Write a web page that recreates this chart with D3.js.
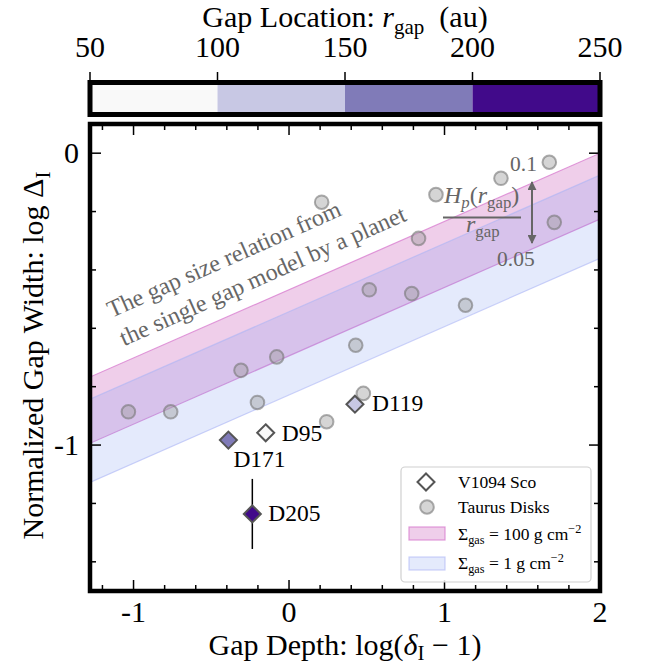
<!DOCTYPE html>
<html><head><meta charset="utf-8">
<script src="https://cdn.jsdelivr.net/npm/d3@7"></script>
<style>
html,body{margin:0;padding:0;background:#fff;}
svg{display:block;font-family:"Liberation Serif","Times New Roman",serif;}
</style></head>
<body><svg id="c" width="649" height="666"></svg>
<script>
// ---------- data ----------
const xTicks = [-1, 0, 1, 2];
const yTicks = [-1, 0];
const cbTicks = [50, 100, 150, 200, 250];
const cbBounds = [50, 100, 150, 200, 250];
const cbColors = ["#f9f9f9", "#c8c8e4", "#807bb8", "#410a8a"];

const taurusX = [-1.033, -0.761, -0.309, -0.079, -0.203, 0.210, 0.516, 0.429, 0.242, 0.478, 0.789, 1.135, 0.833, 0.945, 1.363, 1.674, 1.706];
const taurusY = [-0.886, -0.886, -0.744, -0.698, -0.854, -0.168, -0.468, -0.658, -0.920, -0.823, -0.481, -0.521, -0.292, -0.142, -0.086, -0.031, -0.237];

const v1094Names = ["D95", "D119", "D171", "D205"];
const v1094X = [-0.150, 0.424, -0.390, -0.236];
const v1094Y = [-0.958, -0.860, -0.983, -1.236];
const v1094Err = [0, 0, 0, 0.12];
const v1094R = [95, 119, 171, 205];

const bandX = [-1.28, 2.0];
const pinkUpper = [-0.767, 0.000];
const pinkLower = [-0.994, -0.226];
const blueUpper = [-0.843, -0.075];
const blueLower = [-1.128, -0.360];

// ---------- setup ----------
const svg = d3.select("#c");
const L = 90, R = 600, T = 124, B = 591;
const x = d3.scaleLinear().domain([-1.28, 2]).range([L, R]);
const y = d3.scaleLinear().domain([-1.5, 0.1]).range([B, T]);
const FS = 30;

function rich(sel, parts, fs, subShift) {
  const ss = subShift === undefined ? 0.22 : subShift;
  let shift = 0;
  parts.forEach(([t, s]) => {
    const ts = sel.append("tspan").text(t);
    let target = 0;
    if (s === "sub" || s === "isub") { target = ss * fs; ts.attr("font-size", 0.7 * fs); }
    if (s === "sup") { target = -0.4 * fs; ts.attr("font-size", 0.7 * fs); }
    if (s === "i" || s === "isub") ts.attr("font-style", "italic");
    ts.attr("dy", target - shift);
    shift = target;
  });
}

// ---------- colorbar ----------
const cx = d3.scaleLinear().domain([50, 250]).range([L, R]);
const cbT = 82.5, cbB = 114.5;
const cbg = svg.append("g");
cbColors.forEach((c, i) => {
  cbg.append("rect").attr("x", cx(cbBounds[i])).attr("y", cbT)
    .attr("width", cx(cbBounds[i + 1]) - cx(cbBounds[i])).attr("height", cbB - cbT).attr("fill", c);
});
cbg.append("rect").attr("x", L).attr("y", cbT).attr("width", R - L).attr("height", cbB - cbT)
  .attr("fill", "none").attr("stroke", "#000").attr("stroke-width", 5);
cbTicks.forEach(t => {
  cbg.append("line").attr("x1", cx(t)).attr("x2", cx(t)).attr("y1", 72).attr("y2", 80)
    .attr("stroke", "#000").attr("stroke-width", 1.5);
  cbg.append("text").attr("x", cx(t)).attr("y", 57).attr("text-anchor", "middle")
    .attr("font-size", FS).text(t);
});
rich(cbg.append("text").attr("x", (L + R) / 2).attr("y", 27).attr("text-anchor", "middle").attr("font-size", FS),
  [["Gap Location: ", "n"], ["r", "i"], ["gap", "sub"], ["\u00a0\u00a0(au)", "n"]], FS);

// ---------- plot ----------
svg.append("defs").append("clipPath").attr("id", "clip")
  .append("rect").attr("x", L).attr("y", T).attr("width", R - L).attr("height", B - T);
const pg = svg.append("g").attr("clip-path", "url(#clip)");

function band(up, lo, fill, fop, edge) {
  const pts = bandX.map((bx, i) => ({ x: bx, u: up[i], l: lo[i] }));
  pg.append("path").datum(pts)
    .attr("d", d3.area().x(d => x(d.x)).y0(d => y(d.l)).y1(d => y(d.u)))
    .attr("fill", fill).attr("fill-opacity", fop);
  [up, lo].forEach(arr => {
    pg.append("path").datum(bandX.map((bx, i) => [bx, arr[i]]))
      .attr("d", d3.line().x(d => x(d[0])).y(d => y(d[1])))
      .attr("fill", "none").attr("stroke", edge).attr("stroke-width", 1.2);
  });
}
band(pinkUpper, pinkLower, "rgb(190,60,170)", 0.25, "rgba(215,120,205,0.75)");
band(blueUpper, blueLower, "rgb(120,150,240)", 0.2, "rgba(170,180,245,0.6)");

// Taurus circles
pg.selectAll("circle.t").data(taurusX.map((d, i) => [d, taurusY[i]])).join("circle")
  .attr("cx", d => x(d[0])).attr("cy", d => y(d[1])).attr("r", 6.8)
  .attr("fill", "#9a9a9a").attr("fill-opacity", 0.42)
  .attr("stroke", "#777").attr("stroke-opacity", 0.6).attr("stroke-width", 2);

// V1094 diamonds
const rColor = d3.scaleThreshold().domain([100, 150, 200]).range(cbColors);
const diam = "M0,-8.5L8.5,0L0,8.5L-8.5,0Z";
v1094X.forEach((vx, i) => {
  if (v1094Err[i] > 0) {
    pg.append("line").attr("x1", x(vx)).attr("x2", x(vx))
      .attr("y1", y(v1094Y[i] - v1094Err[i])).attr("y2", y(v1094Y[i] + v1094Err[i]))
      .attr("stroke", "#000").attr("stroke-width", 1.5);
  }
  pg.append("path").attr("d", diam).attr("transform", `translate(${x(vx)},${y(v1094Y[i])})`)
    .attr("fill", rColor(v1094R[i])).attr("stroke", "#555").attr("stroke-width", 2);
});
const labOff = { D95: [16, 8], D119: [17, 7], D171: [5, 27], D205: [16, 7] };
v1094Names.forEach((n, i) => {
  svg.append("text").attr("x", x(v1094X[i]) + labOff[n][0]).attr("y", y(v1094Y[i]) + labOff[n][1])
    .attr("font-size", 23.5).text(n);
});

// rotated annotation
const rg = svg.append("g").attr("transform", "translate(111.5,318) rotate(-24)").attr("fill", "#666").attr("font-size", 24);
rg.append("text").attr("x", 0).attr("y", 0).text("The gap size relation from");
rg.append("text").attr("x", 0).attr("y", 31).text("the single gap model by a planet");

// H/r annotation
const ag = svg.append("g").attr("fill", "#666");
ag.append("text").attr("x", 510).attr("y", 171).attr("font-size", 21.5).text("0.1");
ag.append("text").attr("x", 497).attr("y", 266).attr("font-size", 21.5).text("0.05");
rich(ag.append("text").attr("x", 444).attr("y", 203).attr("font-size", 24),
  [["H", "i"], ["p", "isub"], ["(", "n"], ["r", "i"], ["gap", "sub"], [")", "n"]], 24);
ag.append("line").attr("x1", 443).attr("x2", 521).attr("y1", 217.5).attr("y2", 217.5)
  .attr("stroke", "#666").attr("stroke-width", 2);
rich(ag.append("text").attr("x", 466).attr("y", 232).attr("font-size", 24),
  [["r", "i"], ["gap", "sub"]], 24);
const defs = svg.select("defs");
defs.append("marker").attr("id", "ah").attr("viewBox", "0 0 10 10").attr("refX", 9).attr("refY", 5)
  .attr("markerWidth", 9).attr("markerHeight", 9).attr("markerUnits", "userSpaceOnUse").attr("orient", "auto-start-reverse")
  .append("path").attr("d", "M0,0L10,5L0,10Z").attr("fill", "#666");
ag.append("line").attr("x1", 532).attr("x2", 532).attr("y1", 182).attr("y2", 243)
  .attr("stroke", "#666").attr("stroke-width", 2)
  .attr("marker-start", "url(#ah)").attr("marker-end", "url(#ah)");

// ticks
const tg = svg.append("g").attr("stroke", "#000").attr("stroke-width", 1.5);
const xMinor = d3.range(-1.2, 2.001, 0.2).filter(v => Math.abs(v - Math.round(v)) > 1e-6);
const yMinor = d3.range(-1.4, 0.101, 0.2).filter(v => Math.abs(v - Math.round(v)) > 1e-6);
function xt(v, len) {
  tg.append("line").attr("x1", x(v)).attr("x2", x(v)).attr("y1", B).attr("y2", B - len);
  tg.append("line").attr("x1", x(v)).attr("x2", x(v)).attr("y1", T).attr("y2", T + len);
}
function yt(v, len) {
  tg.append("line").attr("y1", y(v)).attr("y2", y(v)).attr("x1", L).attr("x2", L + len);
  tg.append("line").attr("y1", y(v)).attr("y2", y(v)).attr("x1", R).attr("x2", R - len);
}
xTicks.forEach(v => xt(v, 11)); xMinor.forEach(v => xt(v, 6));
yTicks.forEach(v => yt(v, 11)); yMinor.forEach(v => yt(v, 6));
const fmt = d => (d < 0 ? "-" + Math.abs(d) : String(d));
xTicks.forEach(v => svg.append("text").attr("x", x(v)).attr("y", 622).attr("text-anchor", "middle").attr("font-size", FS).text(fmt(v)));
yTicks.forEach(v => svg.append("text").attr("x", 79).attr("y", y(v) + 10).attr("text-anchor", "end").attr("font-size", FS).text(fmt(v)));

// spines
svg.append("rect").attr("x", L).attr("y", T).attr("width", R - L).attr("height", B - T)
  .attr("fill", "none").attr("stroke", "#000").attr("stroke-width", 4.5);

// axis labels
rich(svg.append("text").attr("x", (L + R) / 2).attr("y", 655).attr("text-anchor", "middle").attr("font-size", FS),
  [["Gap Depth: log(", "n"], ["δ", "i"], ["I", "sub"], [" − 1)", "n"]], FS, 0.15);
rich(svg.append("text").attr("transform", `translate(43,${(T + B) / 2 - 2}) rotate(-90)`).attr("text-anchor", "middle").attr("font-size", FS),
  [["Normalized Gap Width: log Δ", "n"], ["I", "sub"]], FS);

// legend
const lg = svg.append("g");
lg.append("rect").attr("x", 401).attr("y", 467).attr("width", 190).attr("height", 115).attr("rx", 4)
  .attr("fill", "#fff").attr("fill-opacity", 0.85).attr("stroke", "#d0d0d0").attr("stroke-width", 1.2);
lg.append("path").attr("d", diam).attr("transform", "translate(426,482)").attr("fill", "#fff").attr("stroke", "#555").attr("stroke-width", 2);
lg.append("circle").attr("cx", 427).attr("cy", 507).attr("r", 6.8).attr("fill", "#9a9a9a").attr("fill-opacity", 0.42)
  .attr("stroke", "#777").attr("stroke-opacity", 0.6).attr("stroke-width", 2);
lg.append("rect").attr("x", 409).attr("y", 527).attr("width", 36).attr("height", 13)
  .attr("fill", "rgb(190,60,170)").attr("fill-opacity", 0.25).attr("stroke", "rgba(215,120,205,0.75)").attr("stroke-width", 1.2);
lg.append("rect").attr("x", 409).attr("y", 557).attr("width", 36).attr("height", 13)
  .attr("fill", "rgb(120,150,240)").attr("fill-opacity", 0.2).attr("stroke", "rgba(170,180,245,0.6)").attr("stroke-width", 1.2);
const LF = 17.5;
lg.append("text").attr("x", 458).attr("y", 488).attr("font-size", LF).text("V1094 Sco");
lg.append("text").attr("x", 458).attr("y", 513).attr("font-size", LF).text("Taurus Disks");
rich(lg.append("text").attr("x", 458).attr("y", 540).attr("font-size", LF),
  [["Σ", "n"], ["gas", "sub"], [" = 100 g cm", "n"], ["−2", "sup"]], LF);
rich(lg.append("text").attr("x", 458).attr("y", 569).attr("font-size", LF),
  [["Σ", "n"], ["gas", "sub"], [" = 1 g cm", "n"], ["−2", "sup"]], LF);
</script></body></html>
